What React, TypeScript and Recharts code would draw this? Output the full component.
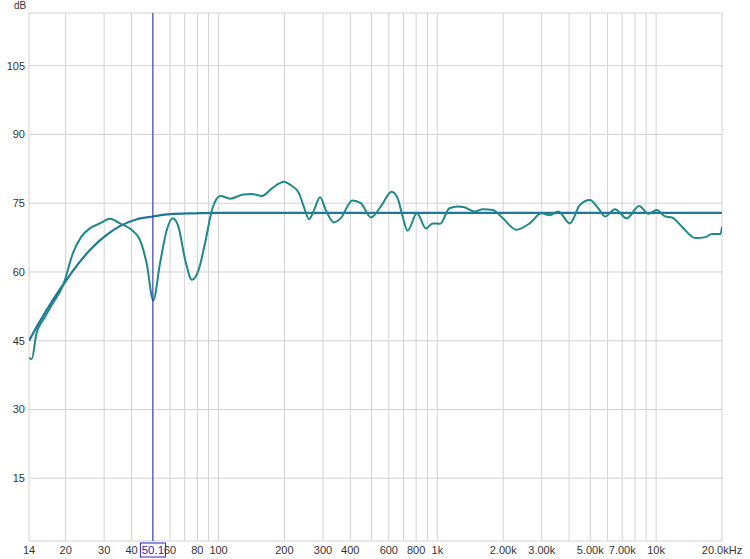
import { LineChart, Line, XAxis, YAxis, CartesianGrid, ReferenceLine } from "recharts";

// measured response (Hz / dB)
const measuredFreq = [
  13.6, 14.0, 14.7, 16.0, 17.5, 19.5, 21.6, 23.6, 25.8, 28.7, 31.9, 35.4, 40.0, 43.7, 46.9,
  50.3, 54.0, 58.0, 61.8, 65.5, 70.4, 75.5, 81.0, 86.9, 93.3, 101.8, 113, 130, 142, 158, 176,
  199, 213, 233, 245, 259, 273, 291, 309, 337, 361, 409, 447, 497, 552, 618, 658, 694, 731,
  807, 887, 952, 1030, 1135, 1240, 1330, 1480, 1615, 1795, 1995, 2297, 2642, 2990, 3266,
  3567, 4033, 4480, 4977, 5440, 5840, 6486, 7340, 8360, 9230, 10070, 11000, 11800, 13100,
  15100, 16800, 18000, 19700, 20000,
];
const measuredDb = [
  41.2, 41.0, 46.5, 50.0, 53.2, 57.2, 64.1, 67.7, 69.5, 70.6, 71.6, 70.6, 69.2, 67.0, 61.9,
  53.8, 61.9, 69.2, 71.7, 69.9, 62.6, 58.3, 60.4, 66.5, 73.5, 76.6, 76.0, 76.9, 77.0, 76.6, 78.3,
  79.7, 79.0, 77.2, 74.3, 71.5, 73.5, 76.3, 73.5, 70.8, 71.7, 75.6, 75.0, 71.9, 74.3, 77.5, 76.1, 72.1, 69.0,
  72.8, 69.5, 70.6, 70.5, 73.9, 74.3, 74.1, 73.2, 73.7, 73.5, 71.7, 69.2, 70.6, 72.8, 72.4,
  73.2, 70.6, 74.6, 75.7, 73.9, 72.1, 73.7, 71.7, 74.4, 72.7, 73.5, 72.1, 71.9, 69.9,
  67.4, 67.6, 68.3, 68.3, 69.9,
];

// target curve
const targetFreq = [13.6, 15.2, 17.5, 20.2, 23.2, 26.7, 30.8, 35.4, 42.3, 50.3, 60, 76.8, 100, 1000, 20000];
const targetDb = [45.0, 49.1, 53.9, 58.3, 62.2, 65.5, 68.1, 70.0, 71.5, 72.1, 72.6, 72.8, 72.9, 72.9, 72.9];

const xTicks = [
  13.6, 20, 30, 40, 50, 60, 70, 80, 90, 100, 200, 300, 400, 500, 600, 700, 800, 900,
  1000, 2000, 3000, 4000, 5000, 6000, 7000, 8000, 9000, 10000, 20000,
];
const xLabels: Record<number, string> = {
  13.6: "14", 20: "20", 30: "30", 40: "40", 60: "60", 80: "80", 100: "100", 200: "200",
  300: "300", 400: "400", 600: "600", 800: "800", 1000: "1k", 2000: "2.00k", 3000: "3.00k",
  5000: "5.00k", 7000: "7.00k", 10000: "10k", 20000: "20.0kHz",
};
const yTicks = [1.3, 15, 30, 45, 60, 75, 90, 105, 116.5];
const yLabels = [15, 30, 45, 60, 75, 90, 105];

const cursorFreq = 50.1;

const measured = measuredFreq.map((f, i) => ({ f, db: measuredDb[i] }));
const target = targetFreq.map((f, i) => ({ f, db: targetDb[i] }));

const font = { fontFamily: "'Liberation Sans', Arial, sans-serif", fontSize: 11, fill: "#333" };

const CursorLabel = (props: any) => {
  const { x, y, height } = props.viewBox;
  const by = y + height + 2;
  return (
    <g>
      <rect x={x - 12.5} y={by} width={25} height={14} fill="#fff" stroke="#2626b8" strokeWidth={1} />
      <text x={x} y={by + 11} textAnchor="middle" fontFamily="'Liberation Sans', Arial, sans-serif" fontSize={11.5} fill="#2626b8">
        {cursorFreq}
      </text>
    </g>
  );
};

export default function App() {
  return (
    <div style={{ position: "absolute", left: 0, top: 0, width: 750, height: 559, background: "#fff" }}>
      <span style={{ position: "absolute", left: 14, top: 0, ...font, fontSize: 10, color: "#333" }}>dB</span>
      <LineChart width={750} height={559} margin={{ top: 13, right: 28, left: 0, bottom: 0 }}>
        <CartesianGrid stroke="#d2d2d2" strokeWidth={1} />
        <XAxis
          dataKey="f"
          type="number"
          scale="log"
          domain={[13.6, 20000]}
          allowDataOverflow
          ticks={xTicks}
          interval={0}
          tickFormatter={(v: number) => xLabels[v] ?? ""}
          axisLine={false}
          tickLine={false}
          tickSize={0}
          tickMargin={5}
          height={18}
          tick={font}
        />
        <YAxis
          type="number"
          domain={[1.3, 116.5]}
          allowDataOverflow
          ticks={yTicks}
          interval={0}
          tickFormatter={(v: number) => (yLabels.includes(v) ? String(v) : "")}
          axisLine={false}
          tickLine={false}
          tickSize={0}
          tickMargin={4}
          width={29}
          tick={font}
        />
        <Line
          data={target}
          dataKey="db"
          type="monotone"
          stroke="#1f7896"
          strokeWidth={2.2}
          dot={false}
          isAnimationActive={false}
        />
        <Line
          data={measured}
          dataKey="db"
          type="monotone"
          stroke="#1f8888"
          strokeWidth={2}
          dot={false}
          isAnimationActive={false}
        />
        <ReferenceLine x={cursorFreq} stroke="#2626b8" strokeWidth={1} label={<CursorLabel />} />
      </LineChart>
    </div>
  );
}
